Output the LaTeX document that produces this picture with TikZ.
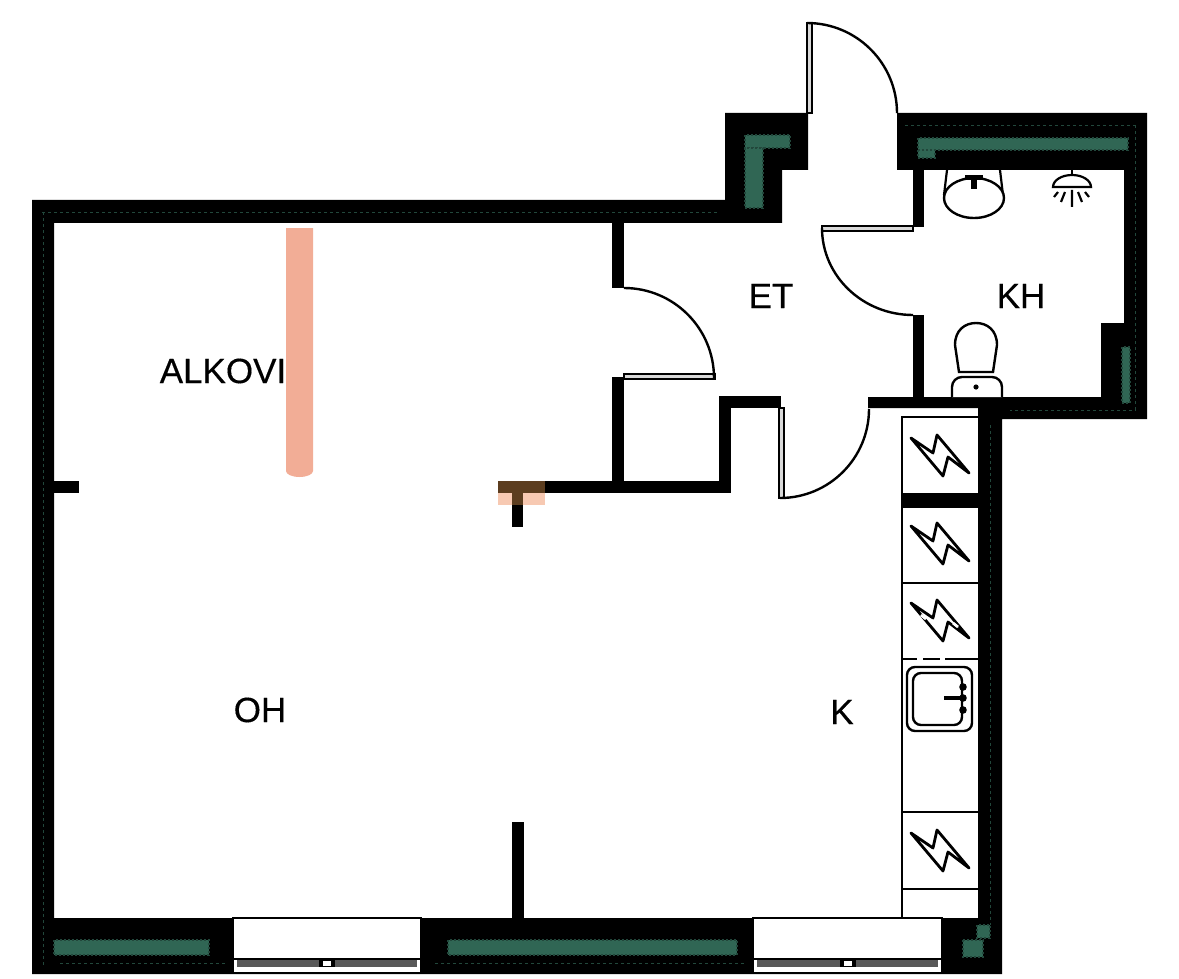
\documentclass[tikz,border=0pt]{standalone}
\usepackage{fontspec}
\setmainfont{Liberation Sans}
\newfontfamily\roomfont[FakeBold=0.35]{Liberation Sans}
\usepackage{xcolor}
\usetikzlibrary{calc}
\definecolor{wallgreen}{rgb}{0.19 0.40 0.33}
\definecolor{alkovi}{rgb}{0.95 0.68 0.59}
\definecolor{alkovilight}{rgb}{0.97 0.79 0.70}
\definecolor{stubbrown}{rgb}{0.36 0.24 0.12}
\tikzset{
  wall/.style={fill=black,draw=none},
  blob/.style={fill=wallgreen,draw=wallgreen!70!black,line width=1pt,dash pattern=on 1pt off 1pt},
  speckle/.style={draw=wallgreen!70!black,line width=.35pt,dash pattern=on 1.5pt off 1.5pt},
  fixture/.style={draw=black,line width=1.2pt,fill=white},
  leaf/.style={draw=black,line width=.9pt,fill=black!15},
  swing/.style={draw=black,line width=1.2pt},
  roomlabel/.style={font=\roomfont\fontsize{17.5}{20}\selectfont,inner sep=0pt,text=black}
}
\begin{document}
\begin{tikzpicture}[x=.5pt,y=-.5pt]
\useasboundingbox (0,0) rectangle (1179,979);

% draw the outer shell
\fill[wall] (32,200) -- (725,200) -- (725,113) -- (808,113) -- (808,170) -- (782,170) -- (782,223) -- (54,223)
  -- (54,918) -- (978,918) -- (978,408) -- (868,408) -- (868,397) -- (1101,397) -- (1101,323) -- (1124,323)
  -- (1124,170) -- (897,170) -- (897,113) -- (1147,113) -- (1147,419) -- (1002,419) -- (1002,974) -- (32,974) -- cycle;

% green patches inside the walls
\def\blobs{745/135/790/148, 745/148/763/208, 918/138/1128/150, 918/150/935/158, 1122/347/1130/403, 54/940/209/955, 448/940/737/955, 963/940/983/957, 977/925/990/938}
\foreach \xa/\ya/\xb/\yb in \blobs
  \filldraw[blob] (\xa,\ya) rectangle (\xb,\yb);
\draw[speckle] (42,212) -- (720,212);
\draw[speckle] (43,212) -- (43,968);
\draw[speckle] (990,425) -- (990,925);
\draw[speckle] (60,963) -- (225,963) (435,963) -- (745,963);
\draw[speckle] (905,125) -- (1135,125);
\draw[speckle] (1135,125) -- (1135,410) -- (1010,410);

% partitions and stubs
\def\parts{913/170/924/227, 913/315/924/397, 612/223/624/288, 612/377/624/493, 545/481/731/493, 719/396/731/493, 719/396/781/408, 54/481/79/493, 512/822/524/918, 512/505/523/527, 902/495/978/506}
\foreach \xa/\ya/\xb/\yb in \parts
  \fill[wall] (\xa,\ya) rectangle (\xb,\yb);

% the alcove screen and the stained stub
\fill[alkovi] (286,228) -- (313,228) -- (313,471) arc[start angle=0,end angle=180,x radius=13.5,y radius=6] -- cycle;
\fill[alkovilight] (498,493) rectangle (545,505);
\fill[stubbrown] (498,481) rectangle (545,493);
\fill[stubbrown] (512,493) rectangle (523,505);

% draw the doors
\filldraw[leaf] (807,23) rectangle (812,113);
\draw[swing] (807,23) arc[start angle=270,end angle=360,radius=90];
\filldraw[leaf] (822,226) rectangle (913,231);
\draw[swing] (822,228) arc[start angle=180,end angle=90,x radius=91,y radius=87];
\filldraw[leaf] (624,374) rectangle (715,379);
\draw[swing] (624,288) arc[start angle=270,end angle=360,radius=90];
\filldraw[leaf] (779,408) rectangle (784,498);
\draw[swing] (780,498) arc[start angle=90,end angle=0,radius=89];

% draw the windows
\foreach \xa/\xb in {233/421,753/942}
{
  \pgfmathsetmacro\xm{(\xa+\xb)/2}
  \filldraw[draw=black,line width=.6pt,fill=white] (\xa,918) rectangle (\xb,973);
  \fill[black!65] (\xa+4,960) rectangle (\xb-4,967);
  \draw[line width=.8pt] (\xa,959) -- (\xb,959);
  \fill[black] (\xm-8,960) rectangle (\xm+8,967);
  \fill[white] (\xm-4,961) rectangle (\xm+4,966);
}

% draw the kitchen units
\draw[line width=1.2pt] (902,918) -- (902,417) -- (978,417);
\foreach \yy in {494,507,583,812,889}
  \draw[line width=1.1pt] (902,\yy) -- (978,\yy);
\foreach \xa/\xb in {902/917,923/940,945/978}
  \draw[line width=1.1pt] (\xa,659) -- (\xb,659);
\foreach \cy in {456,544,621,851}
  \draw[line width=1.4pt,line join=round] (940,\cy) ++(-29,-18) -- ++(22,15) -- ++(4,-18) -- ++(32,38) -- ++(-21,-16) -- ++(-5,19) -- cycle;
\draw[white,line width=1.4pt] (921,615) -- (926,619) (953,623) -- (958,627);

% sink
\draw[line width=1.2pt,rounded corners=4pt] (907,667) rectangle (972,731);
\draw[line width=1.2pt,rounded corners=4pt] (913,673) rectangle (962,725);
\draw[line width=2pt] (944,698) -- (963,698);
\foreach \dy in {687,698,710}
  \fill (963,\dy) circle[radius=3.8];

% washbasin
\draw[line width=1.1pt] (947,170) -- (944,195) (1000,170) -- (1003,195);
\draw[fixture] (974,198) circle[x radius=30,y radius=20];
\fill (965,175) rectangle (983,180);
\fill (971,180) rectangle (977,189);

% shower
\draw[line width=1.1pt] (1072,168) -- (1072,175);
\draw[line width=1.1pt] (1053,187) arc[start angle=180,end angle=360,x radius=19,y radius=12] -- cycle;
\draw[line width=1.1pt] (1058,192) -- (1054,197) (1065,192) -- (1061,202) (1072,190) -- (1072,207) (1078,192) -- (1082,202) (1085,192) -- (1089,197);

% toilet
\draw[fixture] (959,372) -- (955,345) .. controls (955,330) and (965,323) .. (976,323) .. controls (987,323) and (997,330) .. (997,345) -- (993,372) -- cycle;
\draw[fixture,rounded corners=5pt] (952,397) -- (952,377) -- (1002,377) -- (1002,397);
\fill (976,387) circle[radius=2.6];

% room labels
\node[roomlabel] (alkovilabel) at (223,371) {ALKOVI};
\node[roomlabel] (et) at (771,296) {ET};
\node[roomlabel] (kh) at (1021,296) {KH};
\node[roomlabel] (oh) at (260,710) {OH};
\node[roomlabel] (k) at (842,712) {K};
\end{tikzpicture}
\end{document}
